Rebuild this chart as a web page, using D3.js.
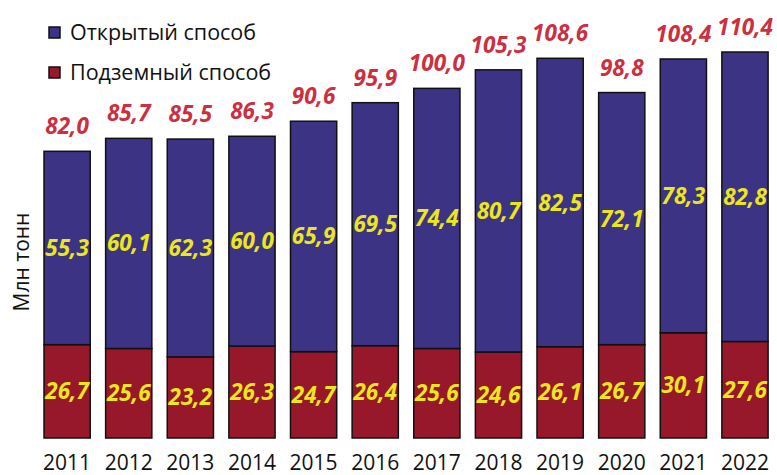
<!DOCTYPE html>
<html>
<head>
<meta charset="utf-8">
<script src="https://cdn.jsdelivr.net/npm/d3@7"></script>
<style>
  body { margin: 0; background: #fff; }
  text { font-family: "Open Sans", "DejaVu Sans", sans-serif; }
</style>
</head>
<body>
<div id="chart"></div>
<script>
var years = ["2011", "2012", "2013", "2014", "2015", "2016", "2017", "2018", "2019", "2020", "2021", "2022"];
var underground = [26.7, 25.6, 23.2, 26.3, 24.7, 26.4, 25.6, 24.6, 26.1, 26.7, 30.1, 27.6];
var openPit = [55.3, 60.1, 62.3, 60.0, 65.9, 69.5, 74.4, 80.7, 82.5, 72.1, 78.3, 82.8];
var totals = [82.0, 85.7, 85.5, 86.3, 90.6, 95.9, 100.0, 105.3, 108.6, 98.8, 108.4, 110.4];
var seriesNames = ["Открытый способ", "Подземный способ"];
var yLabel = "Млн тонн";

var width = 777, height = 475;
var blue = "#3c3384", red = "#96182a";

var svg = d3.select("#chart").append("svg")
  .attr("width", width)
  .attr("height", height);

var x = d3.scaleBand()
  .domain(years)
  .range([36.3, 775.8])
  .paddingInner(0.25)
  .paddingOuter(0.125);

var y = d3.scaleLinear()
  .domain([0, d3.max(totals)])
  .range([438, 52]);

var fmt = function (v) { return v.toFixed(1).replace(".", ","); };

var rows = years.map(function (yr, i) {
  return { year: yr, under: underground[i], open: openPit[i], total: totals[i] };
});

var bars = svg.selectAll(".bar")
  .data(rows)
  .enter().append("g")
  .attr("class", "bar");

// bottom segment
bars.append("rect")
  .attr("x", function (d) { return x(d.year); })
  .attr("y", function (d) { return y(d.under); })
  .attr("width", x.bandwidth())
  .attr("height", function (d) { return y(0) - y(d.under); })
  .attr("fill", red)
  .attr("stroke", "#111")
  .attr("stroke-width", 1.5);

// top segment
bars.append("rect")
  .attr("x", function (d) { return x(d.year); })
  .attr("y", function (d) { return y(d.under + d.open); })
  .attr("width", x.bandwidth())
  .attr("height", function (d) { return y(d.under) - y(d.under + d.open); })
  .attr("fill", blue)
  .attr("stroke", "#111")
  .attr("stroke-width", 1.5);

var valueFont = function (sel) {
  sel.attr("text-anchor", "middle")
    .attr("font-size", 22.5)
    .attr("font-weight", "bold")
    .attr("font-style", "italic");
};

bars.append("text")
  .call(valueFont)
  .attr("x", function (d) { return x(d.year) + x.bandwidth() / 2; })
  .attr("y", function (d) { return (y(0) + y(d.under)) / 2 + 8; })
  .attr("fill", "#ece61c")
  .text(function (d) { return fmt(d.under); });

bars.append("text")
  .call(valueFont)
  .attr("x", function (d) { return x(d.year) + x.bandwidth() / 2; })
  .attr("y", function (d) { return (y(d.under) + y(d.under + d.open)) / 2 + 8; })
  .attr("fill", "#ece61c")
  .text(function (d) { return fmt(d.open); });

bars.append("text")
  .call(valueFont)
  .attr("x", function (d) { return x(d.year) + x.bandwidth() / 2; })
  .attr("y", function (d) { return y(d.total) - 17; })
  .attr("fill", "#cc2f40")
  .text(function (d) { return fmt(d.total); });

// year axis
var xAxis = svg.append("g")
  .attr("transform", "translate(0,448)")
  .call(d3.axisBottom(x).tickSize(0).tickPadding(7));
xAxis.select(".domain").remove();
xAxis.selectAll("text")
  .attr("font-size", 21)
  .attr("fill", "#111")
  .style("font-family", "'Open Sans', sans-serif");

svg.append("text")
  .attr("transform", "translate(29,262) rotate(-90)")
  .attr("text-anchor", "middle")
  .attr("font-size", 21)
  .attr("fill", "#111")
  .text(yLabel);

// legend
var legend = svg.selectAll(".legend")
  .data(seriesNames)
  .enter().append("g")
  .attr("class", "legend")
  .attr("transform", function (d, i) { return "translate(49," + (27 + i * 40) + ")"; });

legend.append("rect")
  .attr("width", 11)
  .attr("height", 11)
  .attr("fill", function (d, i) { return i === 0 ? blue : red; })
  .attr("stroke", "#111")
  .attr("stroke-width", 1.5);

legend.append("text")
  .attr("x", 21)
  .attr("y", 13)
  .attr("font-size", 21.5)
  .attr("fill", "#111")
  .text(function (d) { return d; });
</script>
</body>
</html>
